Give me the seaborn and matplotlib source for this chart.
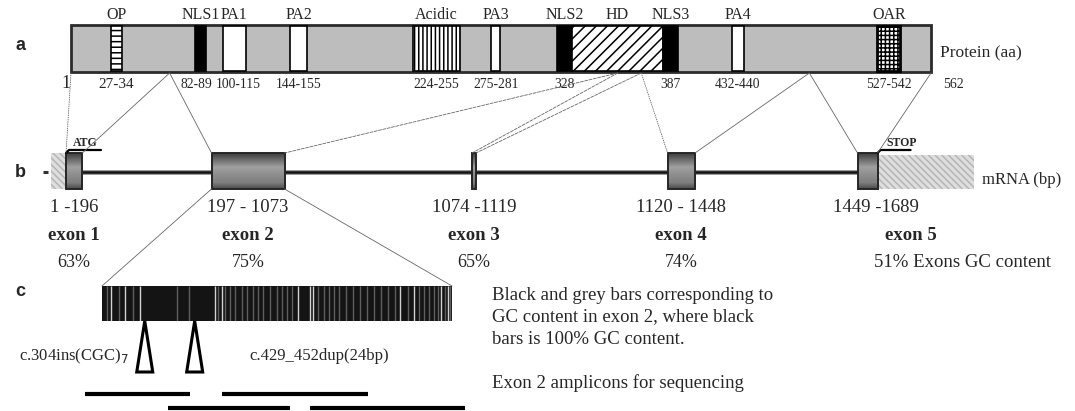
import numpy as np
import matplotlib
matplotlib.use('Agg')
import matplotlib.pyplot as plt
import seaborn as sns
from matplotlib.patches import Rectangle, Polygon, ConnectionPatch
from matplotlib.transforms import ScaledTranslation

sns.set_theme(style='white')
plt.rcParams['font.family'] = ['Liberation Serif', 'DejaVu Serif']
plt.rcParams['hatch.linewidth'] = 1.1

W, H = 1075, 411

# ---- data ----
prot_len = 562
dom_names = ['OP', 'NLS1', 'PA1', 'PA2', 'Acidic', 'PA3', 'NLS2', 'HD', 'NLS3', 'PA4', 'OAR']
dom_start = [27, 82, 100, 144, 224, 275, 318, 328, 387, 432, 527]
dom_end = [34, 89, 115, 155, 255, 281, 328, 387, 397, 440, 542]
dom_lbl = ['27-34', '82-89', '100-115', '144-155', '224-255', '275-281', '328', '', '387', '432-440', '527-542']

exon_names = ['exon 1', 'exon 2', 'exon 3', 'exon 4', 'exon 5']
exon_start = [1, 197, 1074, 1120, 1449]
exon_end = [196, 1073, 1119, 1448, 1689]
exon_gc = [63, 75, 65, 74, 51]
intron_draw = [1550, 2250, 2300, 1950]   # schematic intron lengths (not to scale)
utr5_draw, utr3_draw = 180, 1160

# exon 2 GC profile: positions (bp) of low GC windows
gc_bright = [220, 255, 292, 480, 497, 688, 718, 725, 943, 978, 1045, 1063]
gc_dim = [210, 240, 275, 385, 415, 487, 505, 517, 530, 547, 560, 575, 587, 600, 617,
          635, 648, 660, 673, 738, 753, 765, 778, 790, 808, 825, 843, 860, 878, 895,
          913, 930, 963, 990, 1003, 1015, 1028, 1038, 1055, 1068]

mut_pos = [304, 429]
mut_lbl = ['c.304ins(CGC)$_7$', 'c.429_452dup(24bp)']
amp_start = [155, 498, 361, 717]
amp_end = [416, 864, 667, 1105]
amp_row = [0, 0, 1, 1]

# ---- figure / axes ----
fig = plt.figure(figsize=(W / 100, H / 100), dpi=100)

def full_axes(x0, x1):
    ax = fig.add_axes([0, 0, 1, 1], facecolor='none')
    ax.set_xlim(x0, x1)
    ax.set_ylim(H, 0)
    ax.axis('off')
    return ax

ax_bg = full_axes(0, W)

# protein axis: aa 1 -> px 71, aa 562 -> px 931
kp = 860 / (prot_len - 1)
ax_p = full_axes(1 - 71 / kp, 1 + (W - 71) / kp)

# mRNA axis: 12 units per px, exon 1 starts at px 66
km = 12.0
ax_m = full_axes(-66 * km, (W - 66) * km)

# exon 2 detail axis: bp 197 -> px 102, bp 1073 -> px 452
kc = 350 / (exon_end[1] - exon_start[1])
ax_c = full_axes(exon_start[1] - 102 / kc, exon_start[1] + (W - 102) / kc)

def shift(ax, dx):
    return ax.transData + ScaledTranslation(dx / 100, 0, fig.dpi_scale_trans)

# ---- panel a: protein ----
py0, py1 = 25, 72
ax_p.add_patch(Rectangle((1, py0), prot_len - 1, py1 - py0, fc='#bdbdbd', ec='#2b2b2b', lw=2, zorder=1))
nudge = {'NLS1': -4, 'PA1': 4}
for name, s, e, lbl in zip(dom_names, dom_start, dom_end, dom_lbl):
    kw = dict(fc='white', ec='black', lw=1.2, zorder=2)
    if name.startswith('NLS'):
        kw['fc'] = 'black'
    elif name == 'OP':
        kw['hatch'] = '---'
    elif name == 'Acidic':
        kw['hatch'] = '||||'
    elif name == 'HD':
        kw['hatch'] = '///'
    elif name == 'OAR':
        kw['hatch'] = '++++'
        kw['lw'] = 2
    ax_p.add_patch(Rectangle((s, py0 + 1), e - s, py1 - py0 - 2, **kw))
    mid = (s + e) / 2
    ax_p.text(mid, 15, name, ha='center', va='center', fontsize=11.5)
    if lbl:
        ax_p.text(mid, 84, lbl, ha='center', va='center', fontsize=11 if name == 'OP' else 9.8,
                  transform=shift(ax_p, nudge.get(name, 0)))
ax_p.text(1, 84, '1', ha='right', va='center', fontsize=13, transform=shift(ax_p, 0))
ax_p.text(prot_len, 84, str(prot_len), ha='left', va='center', fontsize=10, transform=shift(ax_p, 12))
ax_p.text(prot_len, 53, 'Protein (aa)', ha='left', va='center', fontsize=12.5, transform=shift(ax_p, 9))

# ---- panel b: mRNA ----
ex_l, ex_r = [], []
pos = 0
for i, (s, e) in enumerate(zip(exon_start, exon_end)):
    ex_l.append(pos)
    ex_r.append(pos + (e - s + 1))
    pos = ex_r[-1] + (intron_draw[i] if i < len(intron_draw) else 0)

my0, my1, mmid = 153, 189, 172
ax_m.plot([-utr5_draw - 100, -utr5_draw - 40], [mmid, mmid], color='#333', lw=2.2, solid_capstyle='butt')
ax_m.plot([ex_r[0], ex_l[-1]], [mmid, mmid], color='#9a9a9a', lw=3.6, zorder=1)
ax_m.plot([ex_r[0], ex_l[-1]], [mmid, mmid], color='#111', lw=1.8, zorder=1.5)
ax_m.add_patch(Rectangle((-utr5_draw, my0), utr5_draw, my1 - my0, fc='#dedede', ec='#b5b5b5',
                         lw=0, hatch='\\\\\\\\\\', zorder=1))
ax_m.add_patch(Rectangle((ex_r[-1], my0 + 2), utr3_draw, my1 - my0 - 2, fc='#dedede', ec='#b5b5b5',
                         lw=0, hatch='\\\\\\\\\\', zorder=1))

grad = np.concatenate([np.linspace(0.25, 0.62, 12), np.linspace(0.62, 0.5, 12), np.linspace(0.5, 0.3, 6)])
grad = np.tile(grad[:, None], (1, 4))
for i in range(len(exon_names)):
    ax_m.imshow(grad, extent=(ex_l[i], ex_r[i], my1, my0), cmap='gray', vmin=0, vmax=1,
                aspect='auto', interpolation='bilinear', zorder=2)
    ax_m.add_patch(Rectangle((ex_l[i], my0), ex_r[i] - ex_l[i], my1 - my0, fc='none', ec='#262626', lw=1.4, zorder=3))
    c = (ex_l[i] + ex_r[i]) / 2
    rng = f'{exon_start[i]} -{exon_end[i]}' if i in (0, 2, 4) else f'{exon_start[i]} - {exon_end[i]}'
    ax_m.text(c, 207, rng, ha='center', va='center', fontsize=13.5, transform=shift(ax_m, 8 if i == 4 else 0))
    ax_m.text(c, 235, exon_names[i], ha='center', va='center', fontsize=13.5, fontweight='bold',
              transform=shift(ax_m, 43 if i == 4 else 0))
    if i < 4:
        ax_m.text(c, 262, f'{exon_gc[i]}%', ha='center', va='center', fontsize=13)
    else:
        ax_m.text(c, 262, f'{exon_gc[i]}% Exons GC content', ha='left', va='center', fontsize=13.5,
                  transform=shift(ax_m, 6))

# ATG / STOP brackets
ax_m.plot([ex_l[0], ex_l[0] + 3 * km, ex_l[0] + 35 * km], [my0, 150, 150], color='black', lw=1.6, zorder=4)
ax_m.text(ex_l[0] + 19 * km, 143, 'ATG', ha='center', va='center', fontsize=8.5, fontweight='bold')
ax_m.plot([ex_r[-1], ex_r[-1] + 3 * km, ex_r[-1] + 33 * km], [my0, 150, 150], color='black', lw=1.6, zorder=4)
ax_m.text(ex_r[-1] + 24 * km, 143, 'STOP', ha='center', va='center', fontsize=8.5, fontweight='bold')
ax_m.text(ex_r[-1] + utr3_draw, 180, 'mRNA (bp)', ha='left', va='center', fontsize=12,
          transform=shift(ax_m, 8))

# protein <-> mRNA guide lines (aa = bp / 3)
links = [(1, ex_l[0], ':'), (exon_end[0] / 3, ex_r[0], '-'), (exon_end[0] / 3, ex_l[1], '-'),
         (exon_end[1] / 3, ex_r[1], '--'), (exon_end[1] / 3, ex_l[2], '--'), (exon_end[2] / 3, ex_r[2], '--'),
         (exon_end[2] / 3, ex_l[3], ':'), (exon_end[3] / 3, ex_r[3], '-'), (exon_end[3] / 3, ex_l[4], '-'),
         (prot_len, ex_r[4], '-')]
for aa, u, ls in links:
    con = ConnectionPatch(xyA=(aa, py1 + 1), coordsA=ax_p.transData, xyB=(u, my0), coordsB=ax_m.transData,
                          color='#666666', lw=0.6, linestyle=ls)
    fig.add_artist(con)

# ---- panel c: exon 2 GC content ----
cy0, cy1 = 286, 321
ax_gc = fig.add_axes([102 / W, 1 - cy1 / H, 350 / W, (cy1 - cy0) / H], facecolor='#141414')
ax_gc.set_xlim(exon_start[1], exon_end[1])
ax_gc.set_ylim(0, 1)
sns.rugplot(x=gc_dim, ax=ax_gc, height=1, color='#5e5e5e', lw=1.4, expand_margins=False)
sns.rugplot(x=gc_bright, ax=ax_gc, height=1, color='#d2d2d2', lw=1.6, expand_margins=False)
ax_gc.set_xticks([])
ax_gc.set_yticks([])
for sp in ax_gc.spines.values():
    sp.set_visible(False)

for u, bp in [(ex_l[1], exon_start[1]), (ex_r[1], exon_end[1])]:
    con = ConnectionPatch(xyA=(u, my1), coordsA=ax_m.transData, xyB=(bp, cy0), coordsB=ax_c.transData,
                          color='#666666', lw=0.6)
    fig.add_artist(con)

hw = 8 / kc
for p in mut_pos:
    ax_c.add_patch(Polygon([(p, cy1), (p - hw, 372), (p + hw, 372)], closed=True, fc='white', ec='black',
                           lw=2.2, joinstyle='miter', zorder=3))
ax_c.text(mut_pos[0], 356, mut_lbl[0], ha='right', va='center', fontsize=12, transform=shift(ax_c, -16))
ax_c.text(mut_pos[1], 356, mut_lbl[1], ha='left', va='center', fontsize=12, transform=shift(ax_c, 55))

row_y = [394, 408]
for s, e, r in zip(amp_start, amp_end, amp_row):
    ax_c.hlines(row_y[r], s, e, color='black', lw=3)

para = ['Black and grey bars corresponding to', 'GC content in exon 2, where black', 'bars is 100% GC content.']
for j, line in enumerate(para):
    ax_bg.text(492, 295 + 22 * j, line, ha='left', va='center', fontsize=13.5)
ax_bg.text(492, 383, 'Exon 2 amplicons for sequencing', ha='left', va='center', fontsize=13.5)

for letter, y in [('a', 45), ('b', 172), ('c', 291)]:
    ax_bg.text(15, y, letter, ha='left', va='center', fontsize=13, fontweight='bold', family=['Liberation Sans'])

fig.savefig('out.png', dpi=100)
